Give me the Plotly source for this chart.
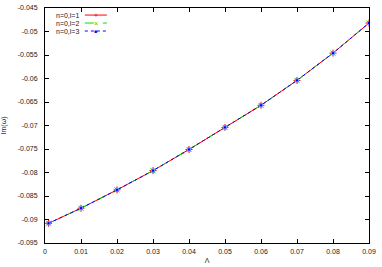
import plotly.graph_objects as go

lam = [0.001, 0.01, 0.02, 0.03, 0.04, 0.05, 0.06, 0.07, 0.08, 0.09]
im_l1 = [-0.0908, -0.0876, -0.0837, -0.0796, -0.0751, -0.0704, -0.0657, -0.0604, -0.0546, -0.0482]
im_l2 = [-0.0908, -0.0876, -0.0837, -0.0796, -0.0751, -0.0704, -0.0657, -0.0604, -0.0546, -0.0482]
im_l3 = [-0.0908, -0.0876, -0.0837, -0.0796, -0.0751, -0.0704, -0.0657, -0.0604, -0.0546, -0.0482]
names = ["n=0,l=1", "n=0,l=2", "n=0,l=3"]
x_tickvals = [0, 0.01, 0.02, 0.03, 0.04, 0.05, 0.06, 0.07, 0.08, 0.09]
x_ticktext = ["0", "0.01", "0.02", "0.03", "0.04", "0.05", "0.06", "0.07", "0.08", "0.09"]
y_tickvals = [-0.095, -0.09, -0.085, -0.08, -0.075, -0.07, -0.065, -0.06, -0.055, -0.05, -0.045]
y_ticktext = ["-0.095", "-0.09", "-0.085", "-0.08", "-0.075", "-0.07", "-0.065", "-0.06", "-0.055", "-0.05", "-0.045"]

colors = ["#ff0000", "#00e000", "#0000ff"]
dashes = ["solid", "dash", "dot"]
symbols = ["cross-thin", "x-thin", "square"]
glyphs = ["+", "×", "■"]

FONT = "Liberation Sans, Arial"
TXT = "#222"

fig = go.Figure()
for ys, nm, c, d, s in zip([im_l1, im_l2, im_l3], names, colors, dashes, symbols):
    if s == "square":
        mk = dict(symbol=s, size=3, color=c, line=dict(color="#7090ff", width=1))
    else:
        mk = dict(symbol=s, size=5, color=c, line=dict(color=c, width=1))
    fig.add_trace(go.Scatter(x=lam, y=ys, name=nm, mode="lines+markers",
                             line=dict(color=c, width=1, dash=d), marker=mk, showlegend=False))

axis_common = dict(showgrid=False, zeroline=False, showline=True, linecolor="black", linewidth=1,
                   mirror="ticks", ticks="inside", ticklen=4, tickcolor="black", automargin=False,
                   tickfont=dict(family=FONT, size=7, color=TXT))
fig.update_xaxes(range=[0, 0.09], tickvals=x_tickvals, ticktext=x_ticktext, tickangle=0,
                 ticklabelstandoff=2,
                 title=dict(text="Λ", font=dict(family=FONT, size=7, color=TXT), standoff=3),
                 **axis_common)
fig.update_yaxes(range=[-0.095, -0.045], tickvals=y_tickvals, ticktext=y_ticktext,
                 ticklabelstandoff=5,
                 title=dict(text="Im(ω)", font=dict(family=FONT, size=7, color=TXT), standoff=16),
                 **axis_common)

# gnuplot-style key (text on the left, sample on the right)
leg_y = [0.970, 0.936, 0.902]
for nm, c, d, g, yy in zip(names, colors, dashes, glyphs, leg_y):
    fig.add_annotation(x=0.111, y=yy, xref="paper", yref="paper", text=nm, showarrow=False,
                       xanchor="right", yanchor="middle", font=dict(family=FONT, size=7, color=TXT))
    fig.add_shape(type="line", xref="paper", yref="paper", x0=0.123, x1=0.191, y0=yy, y1=yy,
                  line=dict(color=c, width=1, dash=d))
    fig.add_annotation(x=0.157, y=yy, xref="paper", yref="paper", text=g, showarrow=False,
                       xanchor="center", yanchor="middle",
                       font=dict(family=FONT, size=5 if g == "■" else 7, color=c))

fig.update_layout(width=382, height=267, margin=dict(l=45, r=13, t=8, b=24),
                  plot_bgcolor="white", paper_bgcolor="white", showlegend=False)

fig.write_html("out.html", config={"displayModeBar": False},
               post_script="document.body.style.margin='0';")
